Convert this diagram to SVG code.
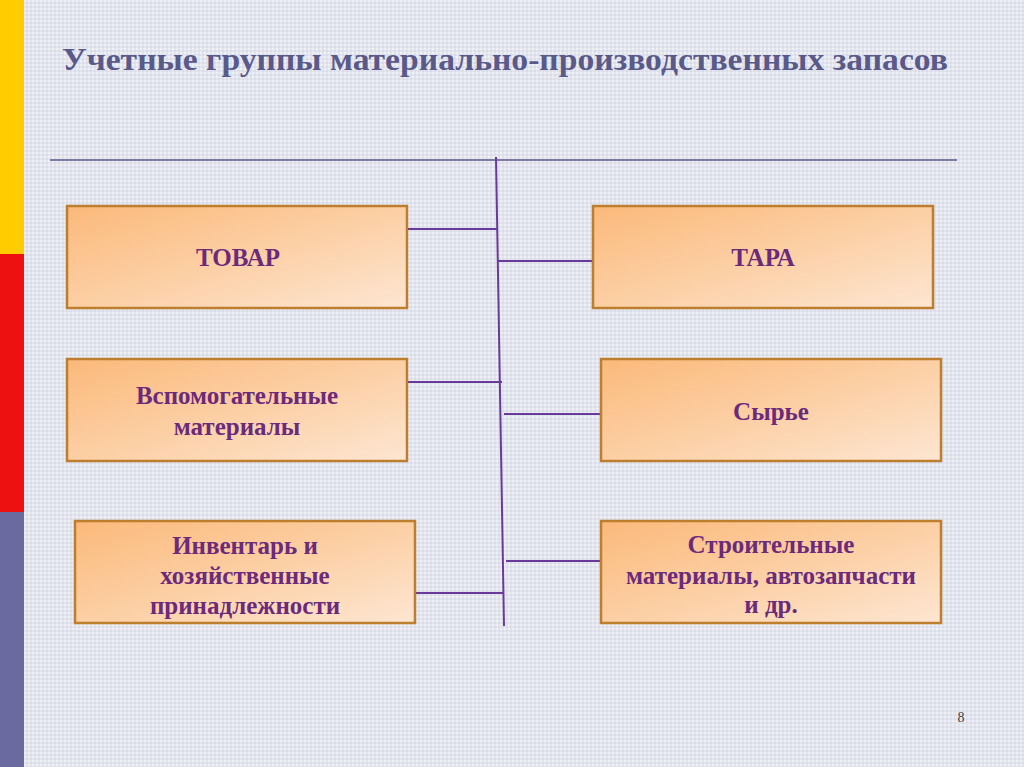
<svg xmlns="http://www.w3.org/2000/svg" width="1024" height="767" viewBox="0 0 1024 767">
<defs>
<pattern id="bg" width="4" height="4" patternUnits="userSpaceOnUse">
<rect width="4" height="4" fill="#E3E5EE"/>
<rect width="2" height="2" fill="#EEF0F6"/>
<rect x="2" y="2" width="2" height="2" fill="#DADDE8"/>
</pattern>
<linearGradient id="boxg" x1="0" y1="0" x2="1" y2="1">
<stop offset="0" stop-color="#FBB97A"/>
<stop offset="0.5" stop-color="#FCCFA4"/>
<stop offset="1" stop-color="#FDE6D2"/>
</linearGradient>
<style>
.box{fill:url(#boxg);stroke:#BD7E2E;stroke-width:2.5}
.lbl{font-family:"Liberation Serif","Times New Roman",serif;font-weight:bold;font-size:25px;fill:#6B2A7C;text-anchor:middle}
.con{stroke:#6A3A9A;stroke-width:2;fill:none}
</style>
</defs>
<rect width="1024" height="767" fill="url(#bg)"/>
<rect x="0" y="0" width="24" height="254" fill="#FFCC00"/>
<rect x="0" y="254" width="24" height="258" fill="#EE1111"/>
<rect x="0" y="512" width="24" height="255" fill="#6A6AA0"/>
<text x="62" y="70" font-family="Liberation Serif, Times New Roman, serif" font-weight="bold" font-size="31" fill="#5A5A8A" textLength="886" lengthAdjust="spacingAndGlyphs">Учетные группы материально-производственных запасов</text>
<line x1="50" y1="160" x2="957" y2="160" stroke="#5A5A8A" stroke-width="1.5"/>
<g id="connectors">
<line class="con" x1="496" y1="157" x2="504" y2="626"/>
<line class="con" x1="407" y1="229" x2="497" y2="229"/>
<line class="con" x1="498" y1="261" x2="592" y2="261"/>
<line class="con" x1="407" y1="382" x2="502" y2="382"/>
<line class="con" x1="504" y1="414" x2="600" y2="414"/>
<line class="con" x1="506" y1="561" x2="600" y2="561"/>
<line class="con" x1="415" y1="593" x2="503" y2="593"/>
</g>
<g id="tovar">
<rect class="box" x="67" y="206" width="340" height="102"/>
<text class="lbl" x="238" y="266">ТОВАР</text>
</g>
<g id="tara">
<rect class="box" x="593" y="206" width="340" height="102"/>
<text class="lbl" x="763" y="266">ТАРА</text>
</g>
<g id="vspom">
<rect class="box" x="67" y="359" width="340" height="102"/>
<text class="lbl" x="237" y="404">Вспомогательные</text>
<text class="lbl" x="237" y="435">материалы</text>
</g>
<g id="syrie">
<rect class="box" x="601" y="359" width="340" height="102"/>
<text class="lbl" x="771" y="420">Сырье</text>
</g>
<g id="inventar">
<rect class="box" x="75" y="521" width="340" height="102"/>
<text class="lbl" x="245" y="554">Инвентарь и</text>
<text class="lbl" x="245" y="584">хозяйственные</text>
<text class="lbl" x="245" y="614">принадлежности</text>
</g>
<g id="stroit">
<rect class="box" x="601" y="521" width="340" height="102"/>
<text class="lbl" x="771" y="553">Строительные</text>
<text class="lbl" x="771" y="584">материалы, автозапчасти</text>
<text class="lbl" x="771" y="613">и др.</text>
</g>
<text x="961" y="722" font-family="Liberation Serif, Times New Roman, serif" font-size="14" fill="#444" text-anchor="middle">8</text>
</svg>
